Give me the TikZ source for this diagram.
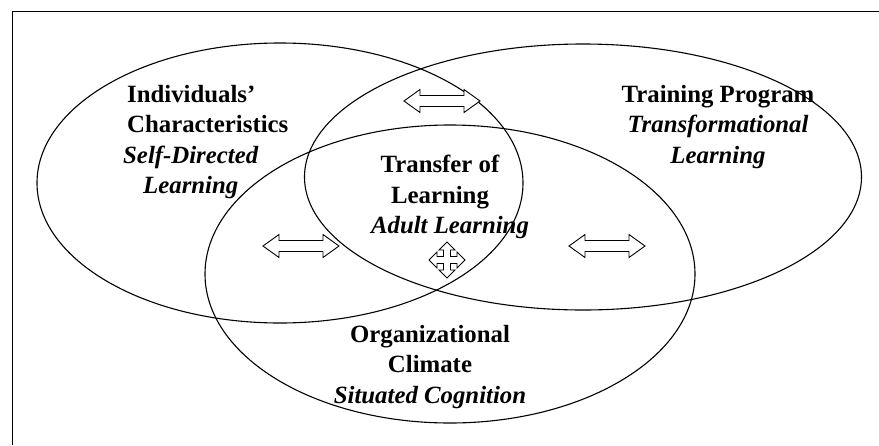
\documentclass[tikz,border=0pt]{standalone}
\usepackage{fontspec}
\setmainfont{Liberation Serif}
\usetikzlibrary{shapes.geometric}
\tikzset{
  venn/.style={ellipse, draw=black, line width=1.1pt, inner sep=0pt, outer sep=0pt},
  lbl/.style={align=center, font=\fontsize{24.8}{30.5}\selectfont\bfseries, inner sep=0pt},
  arrowline/.style={draw=black, line width=0.9pt, fill=white, line join=miter},
  harrow/.pic={\path[arrowline] (-38,0) -- (-22,-11.5) -- (-22,-5.5) -- (22,-5.5) -- (22,-11.5) -- (38,0) -- (22,11.5) -- (22,5.5) -- (-22,5.5) -- (-22,11.5) -- cycle;},
  qarrow/.pic={\path[arrowline] (0,-18) -- (8,-10) -- (3.5,-10) -- (3.5,-3.5) -- (10,-3.5) -- (10,-8) -- (18,0) -- (10,8) -- (10,3.5) -- (3.5,3.5) -- (3.5,10) -- (8,10) -- (0,18) -- (-8,10) -- (-3.5,10) -- (-3.5,3.5) -- (-10,3.5) -- (-10,8) -- (-18,0) -- (-10,-8) -- (-10,-3.5) -- (-3.5,-3.5) -- (-3.5,-10) -- (-8,-10) -- cycle;}
}
\begin{document}
\begin{tikzpicture}[x=1pt, y=-1pt]
\useasboundingbox (0,0) rectangle (879,445);
\fill[white] (0,0) rectangle (879,445);
% frame (right and bottom sides lie outside the picture)
\coordinate (frTL) at (12.5,11.5);
\coordinate (frTR) at (879,11.5);
\coordinate (frBL) at (12.5,445);
\draw[line width=1pt] (frBL) -- (frTL) -- (frTR);
% ellipses
\node[venn, minimum width=486pt, minimum height=280pt] (ind) at (280,183) {};
\node[venn, minimum width=557pt, minimum height=266pt] (trp) at (583,177) {};
\node[venn, minimum width=490pt, minimum height=298pt] (org) at (450,274) {};
% arrows
\pic at (442,101) {harrow};
\pic at (301,246) {harrow};
\pic at (607,246) {harrow};
\pic at (447,260) {qarrow};
% labels
\node[lbl, align=left, anchor=west] (tind) at (123,142) {\hspace*{4pt}Individuals’\\\hspace*{4pt}Characteristics\\\itshape Self-Directed\\\itshape\hspace*{20pt}Learning};
\node[lbl] (ttrp) at (718,127) {Training Program\\\itshape Transformational\\\itshape Learning};
\node[lbl] (ttol) at (440,197) {Transfer of\\Learning\\\itshape\hspace*{20pt}Adult Learning};
\node[lbl] (torg) at (430,367) {Organizational\\Climate\\\itshape Situated Cognition};
\end{tikzpicture}
\end{document}
